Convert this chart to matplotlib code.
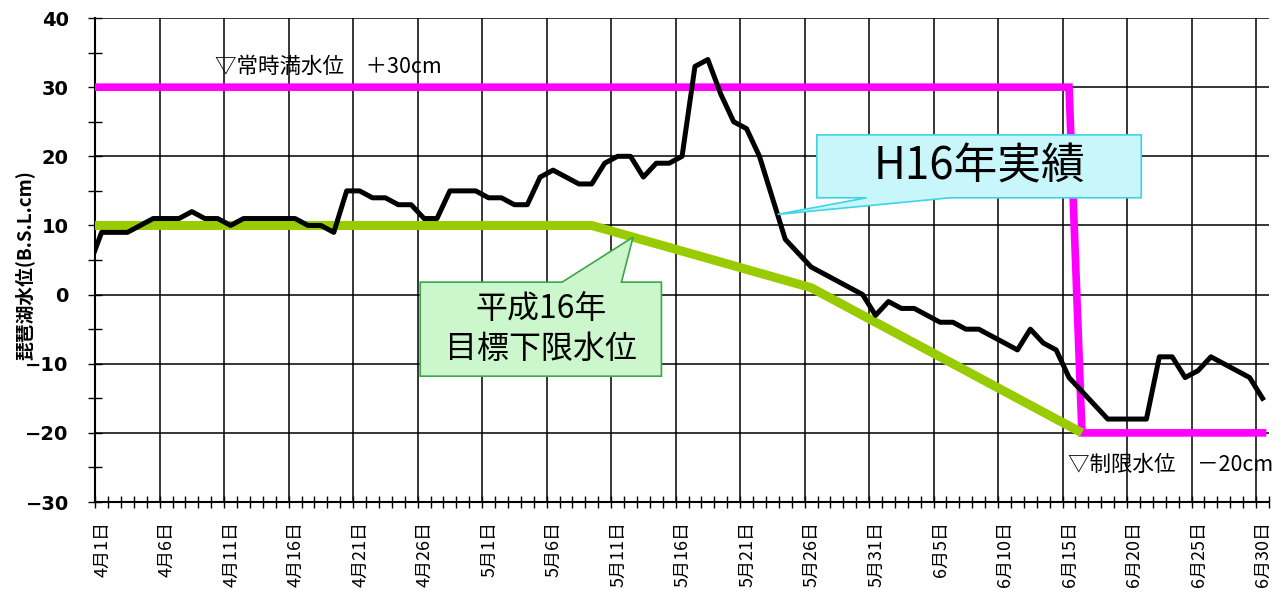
import numpy as np
import matplotlib.pyplot as plt
import matplotlib.transforms as mtransforms
from matplotlib.patches import Polygon
from matplotlib.ticker import MultipleLocator

plt.rcParams['font.family'] = ['Noto Sans CJK JP', 'DejaVu Sans']

# day index: 0 = 4/1 ... 90 = 6/30 (-1 = 3/31, only the clipped lead-in)
days = np.arange(-1, 91)

# H16 actual lake level (B.S.L. cm), one value per day
level_h16 = [4,
             9, 9, 9, 10, 11, 11, 11, 12, 11, 11,            # 4/1 - 4/10
             10, 11, 11, 11, 11, 11, 10, 10, 9, 15,          # 4/11 - 4/20
             15, 14, 14, 13, 13, 11, 11, 15, 15, 15,         # 4/21 - 4/30
             14, 14, 13, 13, 17, 18, 17, 16, 16, 19,         # 5/1 - 5/10
             20, 20, 17, 19, 19, 20, 33, 34, 29, 25,         # 5/11 - 5/20
             24, 20, 14, 8, 6, 4, 3, 2, 1, 0,                # 5/21 - 5/30
             -3, -1, -2, -2, -3, -4, -4, -5, -5, -6,         # 5/31 - 6/9
             -7, -8, -5, -7, -8, -12, -14, -16, -18, -18,    # 6/10 - 6/19
             -18, -18, -9, -9, -12, -11, -9, -10, -11, -12,  # 6/20 - 6/29
             -15]                                            # 6/30

# target lower limit (H16) - breakpoints
target_days = [-1, 38, 55, 76]
target_cm = [10, 10, 1, -20]

# normal full level / flood-season limit - breakpoints
limit_days = [-1, 75, 76, 90]
limit_cm = [30, 30, -20, -20]

tick_days = list(range(0, 91, 5))
tick_labels = ['4月1日', '4月6日', '4月11日', '4月16日', '4月21日', '4月26日',
               '5月1日', '5月6日', '5月11日', '5月16日', '5月21日', '5月26日',
               '5月31日', '6月5日', '6月10日', '6月15日', '6月20日', '6月25日',
               '6月30日']

# each day is drawn in the middle of its slot
x_level = days + 0.5
x_target = np.array(target_days) + 0.5
x_limit = np.array(limit_days) + 0.5

fig = plt.figure(figsize=(12.84, 6.01), dpi=100)
ax = fig.add_axes([0.0741, 0.1647, 0.9142, 0.8053])

ax.plot(x_limit, limit_cm, color='#ff00ff', lw=5.5, zorder=3, solid_joinstyle='miter')
ax.plot(x_target, target_cm, color='#99cc00', lw=6.5, zorder=4, solid_capstyle='butt')
ax.plot(x_level, level_h16, color='black', lw=3.6, zorder=5)

ax.set_xlim(0, 91)
ax.set_ylim(-30, 40)

ax.set_xticks(tick_days)
ax.set_xticklabels(tick_labels, rotation=90, fontsize=13)
ax.xaxis.set_minor_locator(MultipleLocator(1))
ax.yaxis.set_major_locator(MultipleLocator(10))
ax.yaxis.set_minor_locator(MultipleLocator(5))
ax.tick_params(axis='x', which='both', direction='inout', length=8, width=1, pad=10)
ax.tick_params(axis='y', which='both', direction='inout', length=10, width=1, pad=14)
for lab in ax.get_yticklabels():
    lab.set_family(['Liberation Sans Narrow', 'DejaVu Sans'])
    lab.set_fontweight('bold')
    lab.set_fontsize(14)

# date labels sit in the middle of the day slot
shift = mtransforms.ScaledTranslation(7 / 100, 0, fig.dpi_scale_trans)
for lab in ax.get_xticklabels():
    lab.set_transform(lab.get_transform() + shift)

ax.grid(True, which='major', color='black', lw=1.1)
ax.set_axisbelow(True)
for side in ['top', 'right']:
    ax.spines[side].set_visible(False)
for side in ['left', 'bottom']:
    ax.spines[side].set_linewidth(1.5)

ax.set_ylabel('琵琶湖水位(B.S.L.cm)', fontsize=13.5, fontweight='bold')
ax.yaxis.set_label_coords(-0.052, 0.49)

ax.text(9.3, 32.9, '▽常時満水位　＋30cm', fontsize=15.5, ha='left', va='center')
ax.text(75.4, -24.6, '▽制限水位　－20cm', fontsize=15.5, ha='left', va='center')


def callout(ax, box, base, tip, side, text, size, fc, ec):
    x0, y0, w, h = box
    if side == 'bottom':
        pts = [(x0, y0 + h), (x0 + w, y0 + h), (x0 + w, y0),
               (base[1], y0), tip, (base[0], y0), (x0, y0)]
    else:
        pts = [(x0, y0), (x0 + w, y0), (x0 + w, y0 + h),
               (base[1], y0 + h), tip, (base[0], y0 + h), (x0, y0 + h)]
    ax.add_patch(Polygon(pts, closed=True, fc=fc, ec=ec, lw=1.2, zorder=6))
    ax.text(x0 + w / 2, y0 + h / 2, text, fontsize=size, ha='center', va='center',
            linespacing=1.3, zorder=7)


# pointer tips sit on their lines
tip_h16 = (52.9, float(np.interp(52.9, x_level, level_h16)))
tip_target = (41.7, float(np.interp(41.7, x_target, target_cm)))

callout(ax, (55.95, 14.0, 25.15, 9.1), (59.8, 66.3), tip_h16, 'bottom',
        'H16年実績', 31.5, '#c8f6fa', '#3fd4e4')
callout(ax, (25.2, -11.8, 18.7, 13.6), (36.2, 40.8), tip_target, 'top',
        '平成16年\n目標下限水位', 23, '#ccf7cc', '#3aa64a')

fig.savefig('out.png', dpi=100, facecolor='white')
